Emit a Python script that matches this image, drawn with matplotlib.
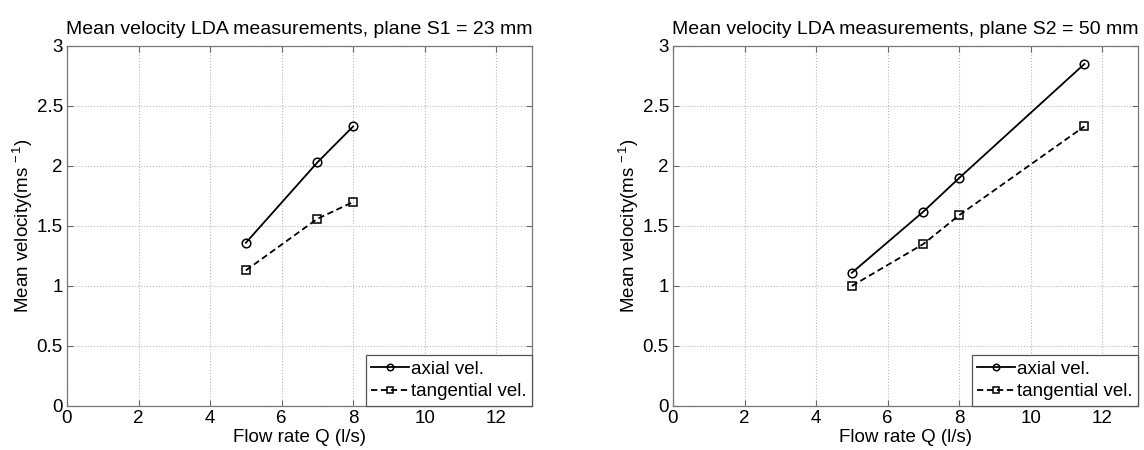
import matplotlib
matplotlib.use("Agg")
import matplotlib.pyplot as plt
from matplotlib.ticker import FuncFormatter

plt.rcParams['font.family'] = ['Liberation Sans', 'DejaVu Sans']
plt.rcParams['mathtext.fontset'] = 'custom'
plt.rcParams['mathtext.rm'] = 'Liberation Sans'
plt.rcParams['mathtext.it'] = 'Liberation Sans'

# Data
q_s1 = [5, 7, 8]
axial_s1 = [1.36, 2.03, 2.33]
tang_s1 = [1.13, 1.56, 1.70]

q_s2 = [5, 7, 8, 11.5]
axial_s2 = [1.11, 1.62, 1.90, 2.85]
tang_s2 = [1.00, 1.35, 1.59, 2.33]

titles = ["Mean velocity LDA measurements, plane S1 = 23 mm",
          "Mean velocity LDA measurements, plane S2 = 50 mm"]
x_ticks = [0, 2, 4, 6, 8, 10, 12]
y_ticks = [0, 0.5, 1, 1.5, 2, 2.5, 3]

fig = plt.figure(figsize=(11.44, 4.5), dpi=100)
positions = [[67/1144, 44/450, 465/1144, 360/450],
             [673/1144, 44/450, 465/1144, 360/450]]
datasets = [(q_s1, axial_s1, tang_s1), (q_s2, axial_s2, tang_s2)]

fmt = FuncFormatter(lambda v, p: f"{v:g}")
FS = 13.5

for pos, (q, ax_v, tg_v), title in zip(positions, datasets, titles):
    ax = fig.add_axes(pos)
    ax.plot(q, ax_v, '-', color='black', lw=1.3, marker='o', ms=6.2,
            mfc='none', mec='black', mew=1.1, label='axial vel.')
    ax.plot(q, tg_v, '--', color='black', lw=1.3, marker='s', ms=5.5,
            mfc='none', mec='black', mew=1.1, label='tangential vel.',
            dashes=(3.5, 2))
    ax.set_xlim(0, 13)
    ax.set_ylim(0, 3)
    ax.set_xticks(x_ticks)
    ax.set_yticks(y_ticks)
    ax.xaxis.set_major_formatter(fmt)
    ax.yaxis.set_major_formatter(fmt)
    ax.tick_params(direction='in', top=True, right=True, length=4,
                   labelsize=FS, pad=3, color='#666666')
    ax.grid(True, linestyle=':', color='#b8b8b8', linewidth=0.8)
    for sp in ax.spines.values():
        sp.set_linewidth(0.9)
        sp.set_color('#777777')
    ax.set_xlabel('Flow rate Q (l/s)', fontsize=FS, labelpad=1)
    ax.set_ylabel('Mean velocity(ms$^{\\,-1}$)', fontsize=FS, labelpad=1)
    ax.set_title(title, fontsize=14, pad=9)
    leg = ax.legend(loc='lower right', fontsize=FS, handlelength=2.0,
                    handletextpad=0.1, borderpad=0.3, labelspacing=0.3,
                    fancybox=False, framealpha=1, edgecolor='#555555',
                    borderaxespad=0.0, markerscale=0.75)
    leg.get_frame().set_linewidth(0.9)

fig.savefig('out.png', dpi=100)
